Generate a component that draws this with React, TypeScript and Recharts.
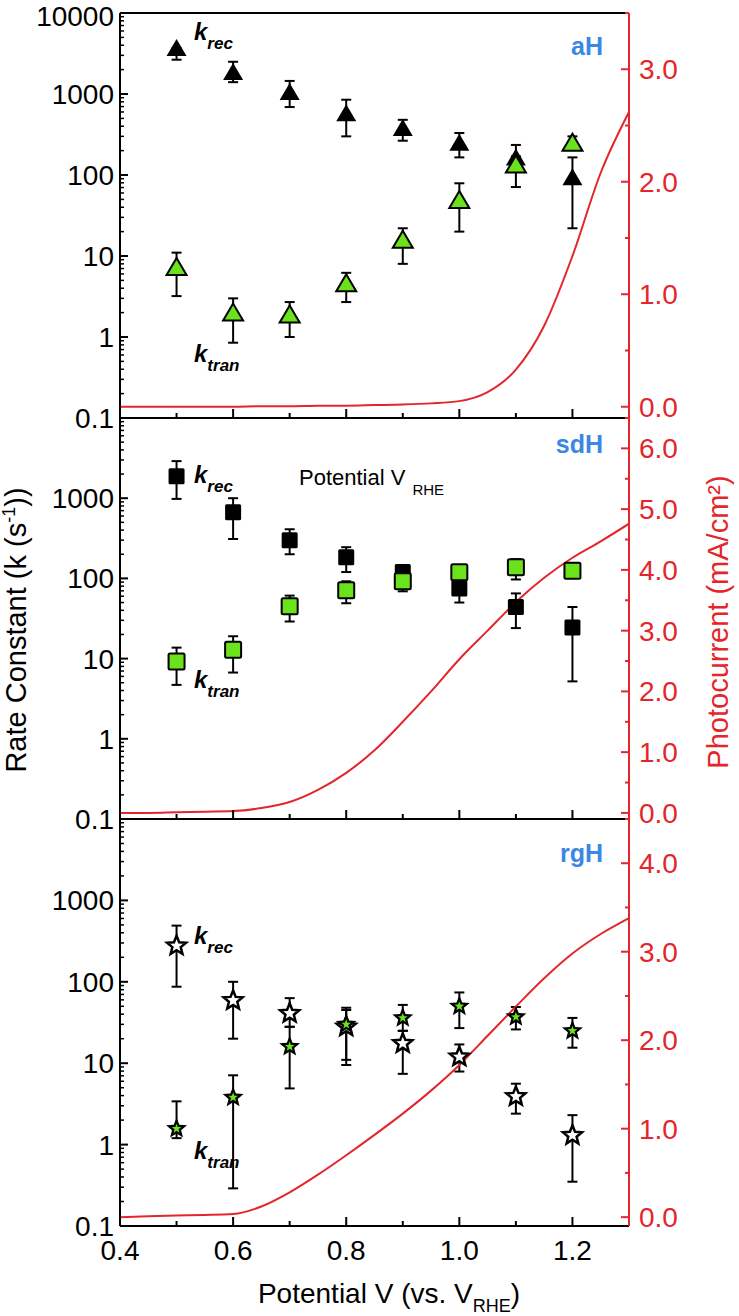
import { ComposedChart, Scatter, Line, XAxis, YAxis, ErrorBar } from 'recharts'

const FONT = 'Arial, "Liberation Sans", sans-serif'
const RED = '#e3262b'
const BLUE = '#3a87e6'
const GREEN = '#6be31c'

// applied potential (V vs RHE) of the rate-constant points
const potentials = [0.5, 0.6, 0.7, 0.8, 0.9, 1.0, 1.1, 1.2]

// aH: k_rec (black triangles) and k_tran (green triangles), with lower/upper error bounds
const aHRec = [3700, 1870, 1060, 580, 380, 250, 165, 94]
const aHRecLo = [2650, 1400, 690, 300, 265, 165, 130, 22]
const aHRecHi = [3700, 2500, 1450, 850, 480, 330, 235, 165]
const aHTran = [7.3, 2.0, 1.9, 4.6, 15.9, 49, 135, 250]
const aHTranLo = [3.2, 0.85, 1.0, 2.7, 8, 20, 71, 210]
const aHTranHi = [11, 3.0, 2.7, 6.2, 22, 79, 170, 300]

// sdH: squares
const sdHRec = [1880, 670, 300, 183, 120, 75, 44, 24.5]
const sdHRecLo = [980, 310, 200, 120, 100, 50, 24, 5.2]
const sdHRecHi = [2900, 1000, 410, 245, 140, 100, 65, 44]
const sdHTran = [9.2, 12.9, 45, 71, 92, 119, 138, 125]
const sdHTranLo = [4.7, 6.7, 29, 49, 69, 100, 97, 110]
const sdHTranHi = [13.7, 19, 61, 92, 110, 135, 174, 135]

// rgH: stars
const rgHRec = [277, 59, 41, 28, 17.5, 12, 3.9, 1.3]
const rgHRecLo = [87, 20, 28, 11, 7.4, 7.9, 2.4, 0.35]
const rgHRecHi = [490, 100, 63, 48, 25, 17, 5.6, 2.3]
const rgHTran = [1.57, 3.8, 16, 30, 36, 50, 37, 25]
const rgHTranLo = [1.2, 0.29, 4.9, 9.5, 25, 27, 26, 15.5]
const rgHTranHi = [3.4, 7.1, 28, 45, 52, 74, 49, 36]

// photocurrent curves (mA/cm2)
const sweepV = [0.4, 0.45, 0.5, 0.55, 0.6, 0.65, 0.7, 0.75, 0.8, 0.85, 0.9, 0.95, 1.0, 1.05, 1.1, 1.15, 1.2, 1.25, 1.3]
const aHCurrent = [0, 0, 0, 0, 0, 0.005, 0.005, 0.01, 0.01, 0.015, 0.02, 0.03, 0.05, 0.13, 0.33, 0.72, 1.34, 2.08, 2.62]
const sdHCurrent = [0, 0, 0.01, 0.02, 0.03, 0.08, 0.18, 0.38, 0.66, 1.03, 1.5, 2.0, 2.53, 3.0, 3.47, 3.87, 4.2, 4.47, 4.76]
const rgHCurrent = [0, 0.01, 0.02, 0.025, 0.035, 0.12, 0.28, 0.48, 0.7, 0.93, 1.17, 1.43, 1.72, 2.05, 2.38, 2.7, 2.98, 3.2, 3.38]

// axis ticks
const vTicks = [0.4, 0.5, 0.6, 0.7, 0.8, 0.9, 1.0, 1.1, 1.2, 1.3]
const vLabels = [0.4, 0.6, 0.8, 1.0, 1.2]
const decades = [0.1, 1, 10, 100, 1000]
const kTicks = [...decades.flatMap((d) => [1, 2, 3, 4, 5, 6, 7, 8, 9].map((m) => m * d)), 10000]
const kLabelsTop = [0.1, 1, 10, 100, 1000, 10000]
const kLabels = [0.1, 1, 10, 100, 1000]
const aHTicks = [0, 0.5, 1, 1.5, 2, 2.5, 3, 3.5]
const sdHTicks = [0, 0.5, 1, 1.5, 2, 2.5, 3, 3.5, 4, 4.5, 5, 5.5, 6, 6.5]
const rgHTicks = [0, 0.5, 1, 1.5, 2, 2.5, 3, 3.5, 4, 4.5]

const rows = (k: number[], lo: number[], hi: number[]) =>
  potentials.map((v, i) => ({ v, k: k[i], lo: lo[i], hi: hi[i] }))
const curve = (j: number[]) => sweepV.map((v, i) => ({ v, j: j[i] }))
const errKey = (d: any) => [d.k - d.lo, d.hi - d.k]

const near = (a: number, b: number) => Math.abs(a - b) < 1e-6 * Math.max(1, Math.abs(b))

function triangle(fill: string) {
  return (p: any) => (
    <polygon
      points={`${p.cx},${p.cy - 9} ${p.cx - 10},${p.cy + 8} ${p.cx + 10},${p.cy + 8}`}
      fill={fill}
      stroke="#000"
      strokeWidth={fill === '#000' ? 0 : 2}
    />
  )
}

function square(fill: string) {
  return (p: any) => (
    <rect x={p.cx - 8} y={p.cy - 8} width={16} height={16} rx={1.5} fill={fill} stroke="#000" strokeWidth={fill === '#000' ? 0 : 2} />
  )
}

function starPath(cx: number, cy: number, R: number, r: number) {
  const pts = []
  for (let i = 0; i < 10; i++) {
    const a = (-90 + i * 36) * (Math.PI / 180)
    const rr = i % 2 === 0 ? R : r
    pts.push(`${cx + rr * Math.cos(a)},${cy + rr * Math.sin(a)}`)
  }
  return pts.join(' ')
}

function star(green: boolean) {
  return (p: any) =>
    green ? (
      <g>
        <polygon points={starPath(p.cx, p.cy, 11, 4.8)} fill="#000" />
        <polygon points={starPath(p.cx, p.cy, 5, 2.1)} fill={GREEN} />
      </g>
    ) : (
      <polygon points={starPath(p.cx, p.cy, 10, 4.4)} fill="#fff" stroke="#000" strokeWidth={2.5} />
    )
}

function LeftTick(props: any) {
  const { x, y, payload, labels } = props
  const v = payload.value
  const lg = Math.log10(v)
  const dec = Math.abs(lg - Math.round(lg)) < 1e-6
  const show = dec && labels.some((l: number) => near(l, v))
  // keep the topmost label inside the page
  const shift = v >= 10000 ? 3 : 0
  return (
    <g>
      <line x1={x} x2={x + (dec ? 8 : 4)} y1={y} y2={y} stroke="#000" strokeWidth={dec ? 2 : 1.5} />
      {show && (
        <text x={x - 6} y={y + shift} dy="0.36em" textAnchor="end" fontFamily={FONT} fontSize={28} fill="#000">
          {v < 1 ? v.toFixed(1) : String(v)}
        </text>
      )}
    </g>
  )
}

function RightTick(props: any) {
  const { x, y, payload } = props
  const v = payload.value
  const major = Number.isInteger(v)
  return (
    <g>
      <line x1={x} x2={x - (major ? 8 : 4)} y1={y} y2={y} stroke={RED} strokeWidth={2} />
      {major && (
        <text x={x + 10} y={y} dy="0.36em" textAnchor="start" fontFamily={FONT} fontSize={28} fill={RED}>
          {v.toFixed(1)}
        </text>
      )}
    </g>
  )
}

function BottomTick(props: any) {
  const { x, y, payload, showLabels } = props
  const v = payload.value
  const edge = near(v, 0.4) || near(v, 1.3)
  const major = Math.round(v * 10) % 2 === 0
  const labelled = showLabels && vLabels.some((l) => near(l, v))
  return (
    <g>
      {!edge && <line x1={x} x2={x} y1={y} y2={y - (major ? 9 : 5)} stroke="#000" strokeWidth={2} />}
      {labelled && (
        <text x={x} y={y + 34} textAnchor="middle" fontFamily={FONT} fontSize={28} fill="#000">
          {v.toFixed(1)}
        </text>
      )}
    </g>
  )
}

type PanelProps = {
  top: number
  height: number
  marginTop: number
  marginBottom: number
  rec: any[]
  tran: any[]
  current: any[]
  jTicks: number[]
  kLabelList: number[]
  recShape: any
  tranShape: any
  showX: boolean
}

function Panel(p: PanelProps) {
  const jMax = p.jTicks[p.jTicks.length - 1]
  return (
    <div style={{ position: 'absolute', left: 0, top: p.top }}>
      <ComposedChart
        width={739}
        height={p.height}
        margin={{ top: p.marginTop, right: 50, bottom: p.marginBottom, left: 60 }}
      >
        <XAxis
          dataKey="v"
          type="number"
          domain={[0.4, 1.3]}
          ticks={vTicks}
          interval={0}
          allowDataOverflow
          height={1}
          tickSize={0}
          tickMargin={0}
          tickLine={false}
          axisLine={{ stroke: '#000', strokeWidth: 2 }}
          tick={(t: any) => <BottomTick {...t} showLabels={p.showX} />}
        />
        <XAxis
          xAxisId="top"
          orientation="top"
          type="number"
          domain={[0.4, 1.3]}
          height={1}
          tick={false}
          tickLine={false}
          axisLine={{ stroke: '#000', strokeWidth: 2 }}
        />
        <YAxis
          yAxisId="left"
          scale="log"
          domain={[0.1, 10000]}
          allowDataOverflow
          ticks={kTicks}
          interval={0}
          width={60}
          tickSize={0}
          tickMargin={0}
          tickLine={false}
          axisLine={{ stroke: '#000', strokeWidth: 2 }}
          tick={(t: any) => <LeftTick {...t} labels={p.kLabelList} />}
        />
        <YAxis
          yAxisId="right"
          orientation="right"
          type="number"
          domain={[-0.1, jMax]}
          allowDataOverflow
          ticks={p.jTicks}
          interval={0}
          width={60}
          tickSize={0}
          tickMargin={0}
          tickLine={false}
          axisLine={{ stroke: RED, strokeWidth: 2 }}
          tick={(t: any) => <RightTick {...t} />}
        />
        <Scatter yAxisId="left" data={p.rec} dataKey="k" shape={p.recShape} isAnimationActive={false}>
          <ErrorBar dataKey={errKey} direction="y" width={5} stroke="#000" strokeWidth={2} isAnimationActive={false} />
        </Scatter>
        <Scatter yAxisId="left" data={p.tran} dataKey="k" shape={p.tranShape} isAnimationActive={false}>
          <ErrorBar dataKey={errKey} direction="y" width={5} stroke="#000" strokeWidth={2} isAnimationActive={false} />
        </Scatter>
        <Line
          yAxisId="right"
          data={p.current}
          dataKey="j"
          type="monotone"
          stroke={RED}
          strokeWidth={2}
          dot={false}
          isAnimationActive={false}
        />
      </ComposedChart>
    </div>
  )
}

function KLabel({ x, y, sub }: { x: number; y: number; sub: string }) {
  return (
    <text x={x} y={y} fontFamily={FONT} fontWeight="bold" fontStyle="italic" fontSize={24} fill="#000">
      k
      <tspan dy={9} fontSize={17}>
        {sub}
      </tspan>
    </text>
  )
}

export default function App() {
  return (
    <div style={{ position: 'absolute', left: 0, top: 0, width: 739, height: 1316, background: '#fff', overflow: 'hidden' }}>
      <Panel
        top={-10}
        height={455}
        marginTop={22}
        marginBottom={26}
        rec={rows(aHRec, aHRecLo, aHRecHi)}
        tran={rows(aHTran, aHTranLo, aHTranHi)}
        current={curve(aHCurrent)}
        jTicks={aHTicks}
        kLabelList={kLabelsTop}
        recShape={triangle('#000')}
        tranShape={triangle(GREEN)}
        showX={false}
      />
      <Panel
        top={398}
        height={450}
        marginTop={19}
        marginBottom={28}
        rec={rows(sdHRec, sdHRecLo, sdHRecHi)}
        tran={rows(sdHTran, sdHTranLo, sdHTranHi)}
        current={curve(sdHCurrent)}
        jTicks={sdHTicks}
        kLabelList={kLabels}
        recShape={square('#000')}
        tranShape={square(GREEN)}
        showX={false}
      />
      <Panel
        top={799}
        height={517}
        marginTop={19}
        marginBottom={89}
        rec={rows(rgHRec, rgHRecLo, rgHRecHi)}
        tran={rows(rgHTran, rgHTranLo, rgHTranHi)}
        current={curve(rgHCurrent)}
        jTicks={rgHTicks}
        kLabelList={kLabels}
        recShape={star(false)}
        tranShape={star(true)}
        showX={true}
      />
      <svg
        width={739}
        height={1316}
        style={{ position: 'absolute', left: 0, top: 0, pointerEvents: 'none' }}
      >
        <KLabel x={194} y={40} sub="rec" />
        <KLabel x={194} y={362} sub="tran" />
        <KLabel x={194} y={483} sub="rec" />
        <KLabel x={194} y={688} sub="tran" />
        <KLabel x={194} y={944} sub="rec" />
        <KLabel x={194} y={1159} sub="tran" />

        <text x={603} y={55} textAnchor="end" fontFamily={FONT} fontWeight="bold" fontSize={25} fill={BLUE}>aH</text>
        <text x={603} y={453} textAnchor="end" fontFamily={FONT} fontWeight="bold" fontSize={25} fill={BLUE}>sdH</text>
        <text x={603} y={862} textAnchor="end" fontFamily={FONT} fontWeight="bold" fontSize={25} fill={BLUE}>rgH</text>

        <text x={299} y={485} fontFamily={FONT} fontSize={22} fill="#000">
          Potential V
          <tspan dx={7} dy={10} fontSize={15}>RHE</tspan>
        </text>

        <text
          x={0}
          y={0}
          transform="translate(26 630) rotate(-90)"
          textAnchor="middle"
          fontFamily={FONT}
          fontSize={29}
          fill="#000"
        >
          Rate Constant (k (s<tspan dy={-11} fontSize={18}>-1</tspan>
          <tspan dy={11}>))</tspan>
        </text>

        <text
          x={0}
          y={0}
          transform="translate(728 622) rotate(-90)"
          textAnchor="middle"
          fontFamily={FONT}
          fontSize={29}
          fill={RED}
        >
          Photocurrent (mA/cm²)
        </text>

        <text x={389} y={1303} textAnchor="middle" fontFamily={FONT} fontSize={28} fill="#000">
          Potential V (vs. V<tspan dy={9} fontSize={18}>RHE</tspan>
          <tspan dy={-9}>)</tspan>
        </text>
      </svg>
    </div>
  )
}
